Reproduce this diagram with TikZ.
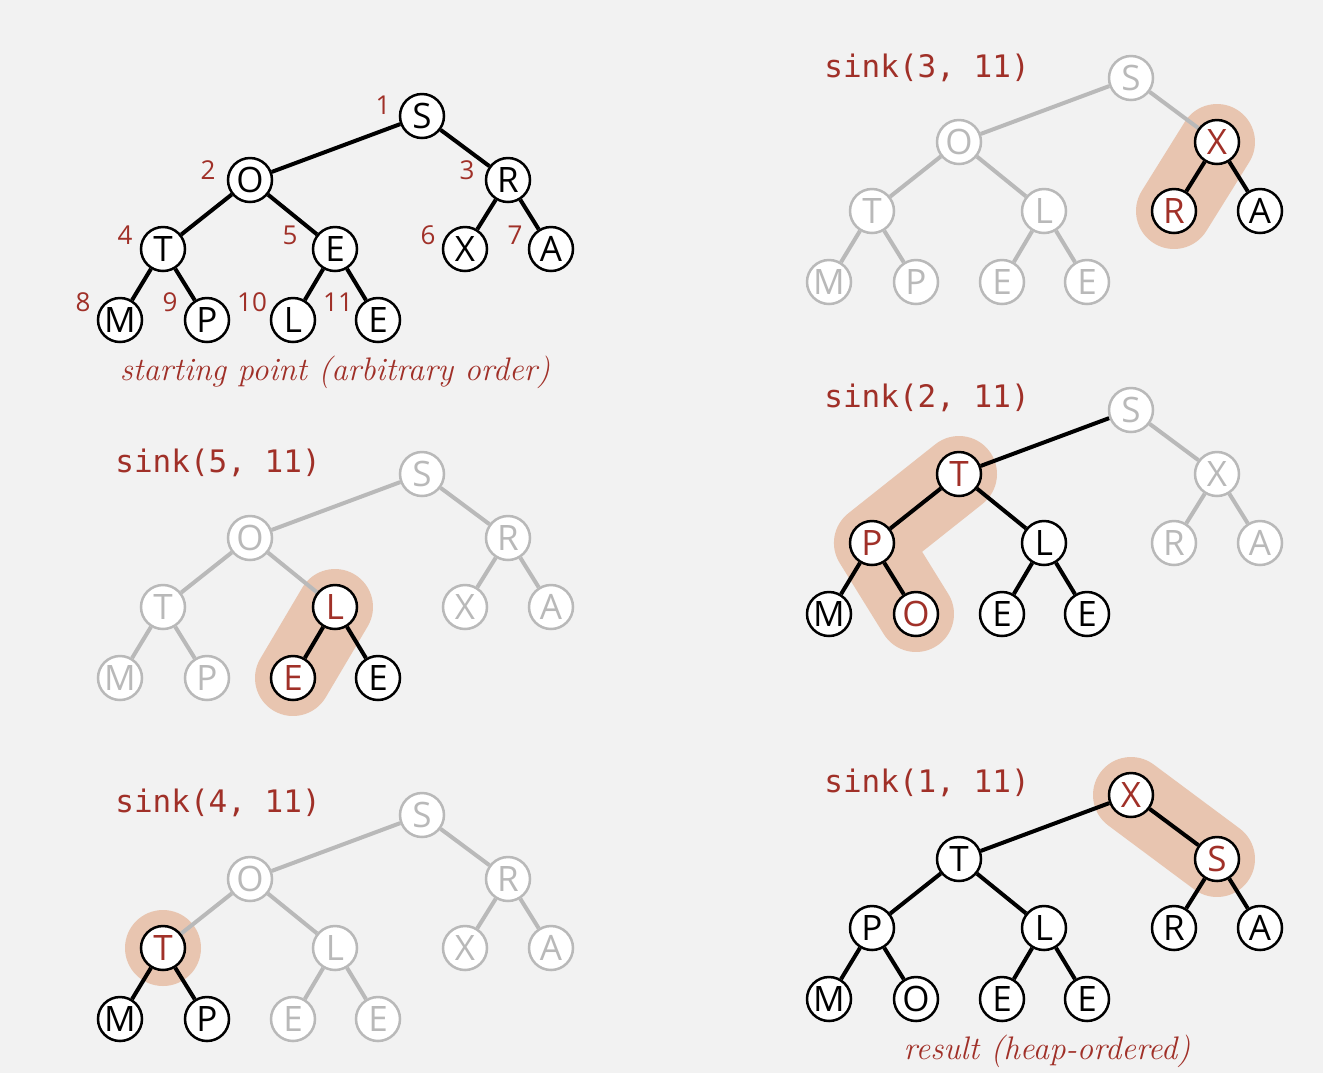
\documentclass[tikz,border=0pt]{standalone}
\usepackage{fontspec}
\setsansfont{Open Sans}
\setmonofont{DejaVu Sans Mono}
\usetikzlibrary{backgrounds}
\definecolor{bg}{RGB}{242,242,242}
\definecolor{hl}{RGB}{232,197,176}
\definecolor{hred}{RGB}{160,48,40}
\definecolor{lg}{RGB}{185,185,185}
\begin{document}
\begin{tikzpicture}[x=0.5pt,y=-0.5pt,
 nb/.style={circle,draw=black,fill=white,line width=1.25pt,inner sep=0pt,minimum size=22pt,font=\sffamily\fontsize{17.5}{17.5}\selectfont,text=black},
 ng/.style={nb,draw=lg,text=lg},
 nr/.style={nb,text=hred},
 eb/.style={draw=black,line width=2pt},
 eg/.style={draw=lg,line width=2pt},
 hlt/.style={draw=hl,line width=38pt,line cap=round,line join=round},
 idx/.style={text=hred,font=\sffamily\fontsize{13}{13}\selectfont,inner sep=0pt},
 code/.style={text=hred,font=\ttfamily\fontsize{15.5}{15.5}\selectfont,anchor=west,inner sep=0pt},
 capt/.style={text=hred,font=\itshape\fontsize{16.3}{16.3}\selectfont,inner sep=0pt}]
\useasboundingbox (0,0) rectangle (1323,1073);

% ---------- tree A: starting point ----------
\begin{scope}[shift={(422,116)}]
\node[nb] (a1) at (0,0) {S};
\node[nb] (a2) at (-172,64) {O};
\node[nb] (a3) at (86,64) {R};
\node[nb] (a4) at (-259,133) {T};
\node[nb] (a5) at (-87,133) {E};
\node[nb] (a6) at (43,133) {X};
\node[nb] (a7) at (129,133) {A};
\node[nb] (a8) at (-302,204) {M};
\node[nb] (a9) at (-215,204) {P};
\node[nb] (a10) at (-129,204) {L};
\node[nb] (a11) at (-44,204) {E};
\end{scope}
\node[idx] (i1) at (383,105) {1};
\node[idx] (i2) at (208,170) {2};
\node[idx] (i3) at (467,170) {3};
\node[idx] (i4) at (125,235) {4};
\node[idx] (i5) at (290,235) {5};
\node[idx] (i6) at (428,235) {6};
\node[idx] (i7) at (515,235) {7};
\node[idx] (i8) at (83,302) {8};
\node[idx] (i9) at (170,302) {9};
\node[idx] (i10) at (252,302) {10};
\node[idx] (i11) at (338,302) {11};
\node[capt] (capA) at (335,372) {starting point (arbitrary order)};

% ---------- tree B: sink(5,11) ----------
\node[code] (cB) at (115,463) {sink(5, 11)};
\begin{scope}[shift={(422,474)}]
\node[ng] (b1) at (0,0) {S};
\node[ng] (b2) at (-172,64) {O};
\node[ng] (b3) at (86,64) {R};
\node[ng] (b4) at (-259,133) {T};
\node[nr] (b5) at (-87,133) {L};
\node[ng] (b6) at (43,133) {X};
\node[ng] (b7) at (129,133) {A};
\node[ng] (b8) at (-302,204) {M};
\node[ng] (b9) at (-215,204) {P};
\node[nr] (b10) at (-129,204) {E};
\node[nb] (b11) at (-44,204) {E};
\end{scope}

% ---------- tree C: sink(4,11) ----------
\node[code] (cC) at (115,803) {sink(4, 11)};
\begin{scope}[shift={(422,815)}]
\node[ng] (c1) at (0,0) {S};
\node[ng] (c2) at (-172,64) {O};
\node[ng] (c3) at (86,64) {R};
\node[nr] (c4) at (-259,133) {T};
\node[ng] (c5) at (-87,133) {L};
\node[ng] (c6) at (43,133) {X};
\node[ng] (c7) at (129,133) {A};
\node[nb] (c8) at (-302,204) {M};
\node[nb] (c9) at (-215,204) {P};
\node[ng] (c10) at (-129,204) {E};
\node[ng] (c11) at (-44,204) {E};
\end{scope}

% ---------- tree D: sink(3,11) ----------
\node[code] (cD) at (824,68) {sink(3, 11)};
\begin{scope}[shift={(1131,78)}]
\node[ng] (d1) at (0,0) {S};
\node[ng] (d2) at (-172,64) {O};
\node[nr] (d3) at (86,64) {X};
\node[ng] (d4) at (-259,133) {T};
\node[ng] (d5) at (-87,133) {L};
\node[nr] (d6) at (43,133) {R};
\node[nb] (d7) at (129,133) {A};
\node[ng] (d8) at (-302,204) {M};
\node[ng] (d9) at (-215,204) {P};
\node[ng] (d10) at (-129,204) {E};
\node[ng] (d11) at (-44,204) {E};
\end{scope}

% ---------- tree E: sink(2,11) ----------
\node[code] (cE) at (824,398) {sink(2, 11)};
\begin{scope}[shift={(1131,410)}]
\node[ng] (e1) at (0,0) {S};
\node[nr] (e2) at (-172,64) {T};
\node[ng] (e3) at (86,64) {X};
\node[nr] (e4) at (-259,133) {P};
\node[nb] (e5) at (-87,133) {L};
\node[ng] (e6) at (43,133) {R};
\node[ng] (e7) at (129,133) {A};
\node[nb] (e8) at (-302,204) {M};
\node[nr] (e9) at (-215,204) {O};
\node[nb] (e10) at (-129,204) {E};
\node[nb] (e11) at (-44,204) {E};
\end{scope}

% ---------- tree F: sink(1,11) ----------
\node[code] (cF) at (824,783) {sink(1, 11)};
\begin{scope}[shift={(1131,795)}]
\node[nr] (f1) at (0,0) {X};
\node[nb] (f2) at (-172,64) {T};
\node[nr] (f3) at (86,64) {S};
\node[nb] (f4) at (-259,133) {P};
\node[nb] (f5) at (-87,133) {L};
\node[nb] (f6) at (43,133) {R};
\node[nb] (f7) at (129,133) {A};
\node[nb] (f8) at (-302,204) {M};
\node[nb] (f9) at (-215,204) {O};
\node[nb] (f10) at (-129,204) {E};
\node[nb] (f11) at (-44,204) {E};
\end{scope}
\node[capt] (capF) at (1047,1051) {result (heap-ordered)};

\begin{pgfonlayer}{background}
\fill[bg] (0,0) rectangle (1323,1073);
% highlights
\draw[hlt] (b5.center) -- (b10.center);
\draw[hlt] (c4.center) -- (c4.center);
\draw[hlt] (d3.center) -- (d6.center);
\draw[hlt] (e2.center) -- (e4.center) -- (e9.center);
\draw[hlt] (f1.center) -- (f3.center);
% edges
\foreach \p/\c in {1/2,1/3,2/4,2/5,3/6,3/7,4/8,4/9,5/10,5/11}
  \draw[eb] (a\p) -- (a\c);
\foreach \p/\c/\s in {1/2/eg,1/3/eg,2/4/eg,2/5/eg,3/6/eg,3/7/eg,4/8/eg,4/9/eg,5/10/eb,5/11/eb}
  \draw[\s] (b\p) -- (b\c);
\foreach \p/\c/\s in {1/2/eg,1/3/eg,2/4/eg,2/5/eg,3/6/eg,3/7/eg,4/8/eb,4/9/eb,5/10/eg,5/11/eg}
  \draw[\s] (c\p) -- (c\c);
\foreach \p/\c/\s in {1/2/eg,1/3/eg,2/4/eg,2/5/eg,3/6/eb,3/7/eb,4/8/eg,4/9/eg,5/10/eg,5/11/eg}
  \draw[\s] (d\p) -- (d\c);
\foreach \p/\c/\s in {1/2/eb,1/3/eg,2/4/eb,2/5/eb,3/6/eg,3/7/eg,4/8/eb,4/9/eb,5/10/eb,5/11/eb}
  \draw[\s] (e\p) -- (e\c);
\foreach \p/\c in {1/2,1/3,2/4,2/5,3/6,3/7,4/8,4/9,5/10,5/11}
  \draw[eb] (f\p) -- (f\c);
\end{pgfonlayer}
\end{tikzpicture}
\end{document}
